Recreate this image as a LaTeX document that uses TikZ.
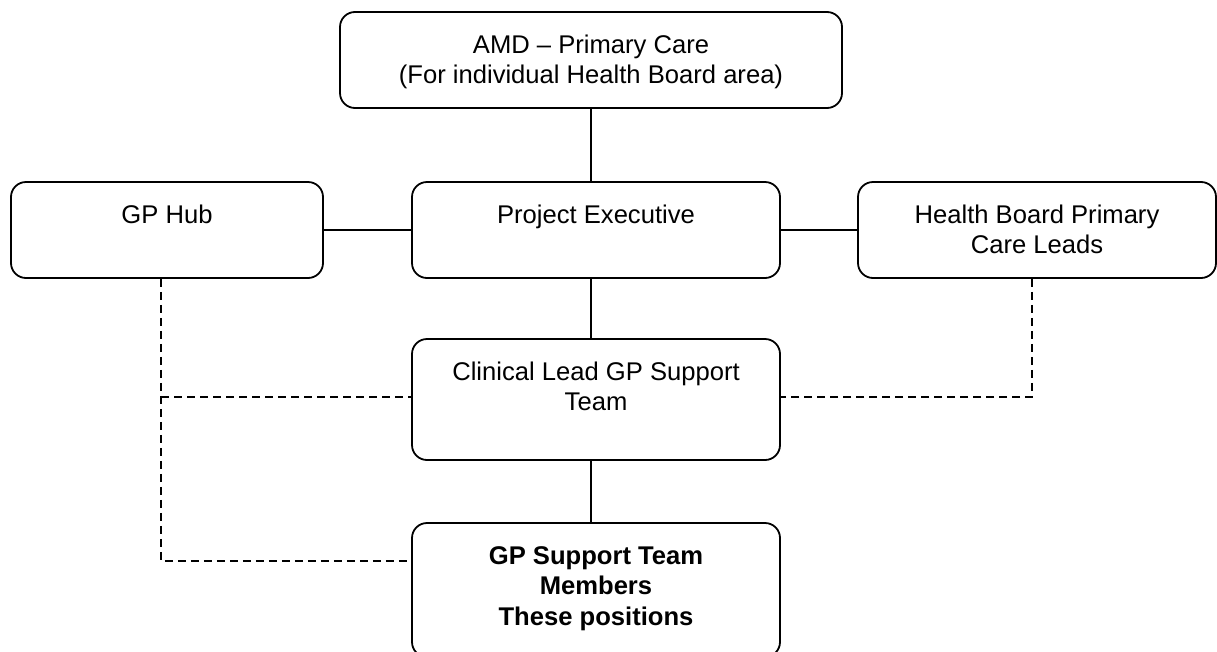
\documentclass[tikz,border=0pt]{standalone}
\usepackage{fontspec}
\setmainfont{Liberation Sans}
\newcommand\boxcontent[3]{\parbox[c][#2][t]{#1}{\centering\rule{0pt}{41pt}#3}}
\begin{document}
\begin{tikzpicture}[x=1pt,y=-1pt,
  box/.style={draw, line width=1.8pt, rounded corners=15pt, inner sep=0pt, font=\fontsize{25.6}{30.5}\selectfont},
  conn/.style={line width=1.8pt},
  dconn/.style={line width=1.8pt, dash pattern=on 8pt off 5pt}]
\useasboundingbox (0,0) rectangle (1217,651);
\node[box] (amd) at (591,60) {\boxcontent{502pt}{96pt}{AMD – Primary Care\\(For individual Health Board area)}};
\node[box] (hub) at (167,230) {\boxcontent{312pt}{96pt}{GP Hub}};
\node[box] (pe) at (596,230) {\boxcontent{368pt}{96pt}{Project Executive}};
\node[box] (hb) at (1037,230) {\boxcontent{358pt}{96pt}{Health Board Primary\\Care Leads}};
\node[box] (cl) at (596,399.5) {\boxcontent{368pt}{121pt}{Clinical Lead GP Support\\Team}};
\node[box] (gps) at (596,590) {\boxcontent{368pt}{134pt}{\bfseries GP Support Team\\Members\\These positions}};
\draw[conn] (amd.south) -- (amd.south |- pe.north);
\draw[conn] (hub.east) -- (pe.west);
\draw[conn] (pe.east) -- (hb.west);
\draw[conn] (amd.south |- pe.south) -- (amd.south |- cl.north);
\draw[conn] (amd.south |- cl.south) -- (amd.south |- gps.north);
\coordinate (lx) at (161,0);
\coordinate (rx) at (1032,0);
\coordinate (clmid) at (0,397);
\coordinate (gpsmid) at (0,561);
\draw[dconn] (lx |- hub.south) -- (lx |- gpsmid) -- (gps.west |- gpsmid);
\draw[dconn] (lx |- clmid) -- (cl.west |- clmid);
\draw[dconn] (rx |- hb.south) -- (rx |- clmid) -- (cl.east |- clmid);
\end{tikzpicture}
\end{document}
